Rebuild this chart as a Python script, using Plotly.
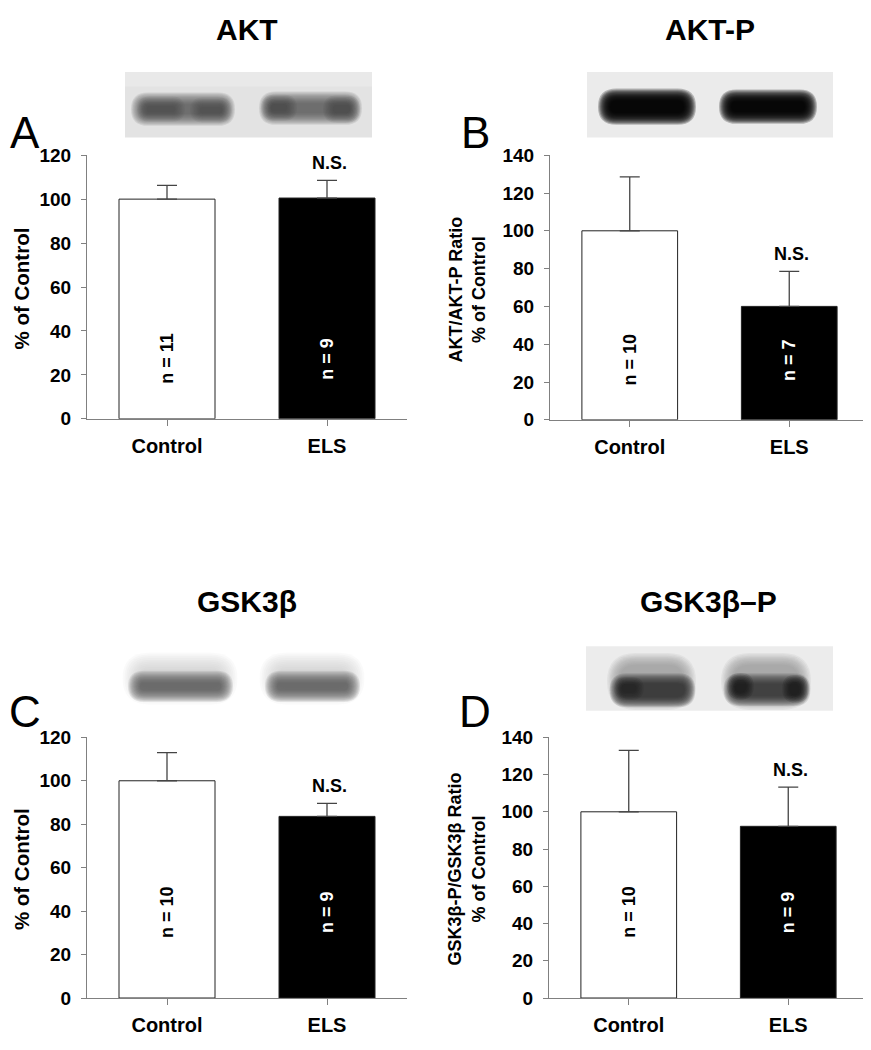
import plotly.graph_objects as go

# the html body adds an 8px margin; figure coordinates below are given in page pixels
OFF = 8
W, H = 863, 1050

# ---------------- data ----------------
categories = ["Control", "ELS"]

akt_mean = [100, 100.5]
akt_err = [6.3, 8.0]
akt_n = [11, 9]

aktp_mean = [100, 60]
aktp_err = [28.5, 18.5]
aktp_n = [10, 7]

gsk_mean = [100, 83.6]
gsk_err = [13.0, 6.0]
gsk_n = [10, 9]

gskp_mean = [100, 92.2]
gskp_err = [33.0, 21.0]
gskp_n = [10, 9]

titles = ["AKT", "AKT-P", "GSK3β", "GSK3β–P"]
letters = ["A", "B", "C", "D"]
ytitles = ["% of Control", "AKT/AKT-P Ratio<br>% of Control",
           "% of Control", "GSK3β-P/GSK3β Ratio<br>% of Control"]
yranges = [120, 140, 120, 140]

FONT = "Arial, Liberation Sans, sans-serif"


def px(x):
    return (x - OFF) / W


def py(y):
    return 1 - (y - OFF) / H


# panel geometry in page pixels: (x0, x1, ytop, ybottom)
panels = [
    (87, 407, 148, 417),
    (550, 869, 148, 418),
    (87, 407, 742, 1008),
    (549, 868, 742, 1008),
]
means = [akt_mean, aktp_mean, gsk_mean, gskp_mean]
errs = [akt_err, aktp_err, gsk_err, gskp_err]
ns = [akt_n, aktp_n, gsk_n, gskp_n]

fig = go.Figure()
annotations = []
shapes = []

for i in range(4):
    x0, x1, yt, yb = panels[i]
    sfx = "" if i == 0 else str(i + 1)
    xa, ya = "x" + sfx, "y" + sfx
    fig.add_trace(go.Bar(
        x=categories, y=means[i],
        xaxis=xa, yaxis=ya,
        width=0.6,
        marker=dict(color=["white", "black"], line=dict(color="#222222", width=1)),
        error_y=dict(type="data", array=errs[i], arrayminus=[0, 0], symmetric=False,
                     color="#444444", thickness=1.3, width=10),
        showlegend=False,
    ))
    line_style = dict(showline=True, linecolor="#808080", linewidth=1.2,
                      ticks="outside", tickcolor="#808080", tickwidth=1.2,
                      showgrid=False, zeroline=False)
    fig.layout["xaxis" + sfx] = dict(
        domain=[px(x0), px(x1)], anchor=ya, range=[-0.5, 1.5], ticklen=6,
        ticklabelstandoff=3,
        tickfont=dict(family=FONT, size=20, color="black", weight="bold"), **line_style)
    fig.layout["yaxis" + sfx] = dict(
        domain=[py(yb), py(yt)], anchor=xa, range=[0, yranges[i]], dtick=20, ticklen=5,
        ticklabelstandoff=6,
        tickfont=dict(family=FONT, size=19, color="black", weight="bold"), **line_style)

    # N.S. label above ELS error bar
    annotations.append(dict(x="ELS", y=means[i][1] + errs[i][1], xref=xa, yref=ya,
                            text="<b>N.S.</b>", showarrow=False, yanchor="bottom", yshift=5,
                            xshift=2, font=dict(family=FONT, size=18, color="black")))
    # n = labels inside bars
    shift = 60 if i < 2 else 86
    for j, cat in enumerate(categories):
        annotations.append(dict(x=cat, y=0, xref=xa, yref=ya, text="<b>n = %d</b>" % ns[i][j],
                                showarrow=False, textangle=-90, yanchor="middle", yshift=shift,
                                font=dict(family=FONT, size=18,
                                          color="black" if j == 0 else "white")))
    # panel title
    ty = 19.5 if i < 2 else 603
    annotations.append(dict(x=px((x0 + x1) / 2), y=py(ty), xref="paper", yref="paper",
                            text="<b>%s</b>" % titles[i], showarrow=False,
                            xanchor="center", yanchor="middle",
                            font=dict(family=FONT, size=30, color="black")))
    # panel letter
    lx = 25 if i % 2 == 0 else 475
    lby = 142 if i < 2 else 733
    annotations.append(dict(x=px(lx), y=py(lby + 10), xref="paper", yref="paper",
                            text=letters[i], showarrow=False, xanchor="center", yanchor="bottom",
                            font=dict(family=FONT, size=44, color="black")))
    # y-axis title
    two = "<br>" in ytitles[i]
    tx = 467 if (i % 2 == 1) else 21.5
    annotations.append(dict(x=px(tx), y=py((yt + yb) / 2 + 2), xref="paper", yref="paper",
                            text="<b>%s</b>" % ytitles[i], showarrow=False, textangle=-90,
                            xanchor="center", yanchor="middle",
                            font=dict(family=FONT, size=18 if two else 20.5, color="black")))


# ---------------- western-blot pictures (decoration drawn with shapes) ----------------
def rrect_path(x0, y0, x1, y1, r):
    r = max(0.5, min(r, (x1 - x0) / 2, (y1 - y0) / 2))
    pts = [
        ("M", px(x0 + r), py(y0)),
        ("L", px(x1 - r), py(y0)),
        ("Q", px(x1), py(y0), px(x1), py(y0 + r)),
        ("L", px(x1), py(y1 - r)),
        ("Q", px(x1), py(y1), px(x1 - r), py(y1)),
        ("L", px(x0 + r), py(y1)),
        ("Q", px(x0), py(y1), px(x0), py(y1 - r)),
        ("L", px(x0), py(y0 + r)),
        ("Q", px(x0), py(y0), px(x0 + r), py(y0)),
    ]
    s = ""
    for p in pts:
        s += p[0] + " " + ",".join("%.5f" % v for v in p[1:]) + " "
    return s + "Z"


def soft_blob(x0, x1, y0, y1, color, layers=12, spread=9, op=0.13):
    for k in range(layers):
        pad = spread * (0.6 - 1.2 * k / (layers - 1))
        a0, a1 = x0 - pad, x1 + pad
        b0, b1 = y0 - pad, y1 + pad
        if a1 - a0 < 2 or b1 - b0 < 2:
            continue
        shapes.append(dict(type="path", xref="paper", yref="paper",
                           path=rrect_path(a0, b0, a1, b1, (b1 - b0) / 2),
                           fillcolor=color, line=dict(width=0), opacity=op, layer="below"))


def bg_rect(x0, x1, y0, y1, color):
    shapes.append(dict(type="rect", xref="paper", yref="paper",
                       x0=px(x0), x1=px(x1), y0=py(y1), y1=py(y0),
                       fillcolor=color, line=dict(width=0), layer="below"))


# Blot A (AKT)
bg_rect(125, 372, 63, 130, "#e3e3e3")
bg_rect(125, 372, 63, 78, "#e9e9e9")
soft_blob(137, 229, 90, 112, "#555555", layers=12, spread=10, op=0.13)
soft_blob(142, 180, 93, 109, "#3c3c3c", layers=8, spread=8, op=0.07)
soft_blob(195, 227, 94, 110, "#3c3c3c", layers=8, spread=8, op=0.07)
soft_blob(265, 356, 89, 111, "#555555", layers=12, spread=10, op=0.13)
soft_blob(266, 292, 91, 108, "#333333", layers=8, spread=8, op=0.09)
soft_blob(328, 355, 92, 110, "#333333", layers=8, spread=8, op=0.09)

# Blot B (AKT-P)
bg_rect(587, 833, 63, 130, "#ebebeb")
soft_blob(604, 690, 86, 111, "#000000", layers=12, spread=10, op=0.24)
soft_blob(725, 811, 87, 110, "#000000", layers=12, spread=10, op=0.24)

# Blot C (GSK3b)
soft_blob(131, 229, 664, 700, "#c4c4c4", layers=10, spread=14, op=0.08)
soft_blob(134, 227, 680, 700, "#555555", layers=12, spread=10, op=0.12)
soft_blob(268, 356, 664, 700, "#c4c4c4", layers=10, spread=14, op=0.08)
soft_blob(271, 354, 680, 700, "#555555", layers=12, spread=10, op=0.12)

# Blot D (GSK3b-P)
bg_rect(586, 833, 649, 715, "#ececec")
soft_blob(613, 690, 662, 708, "#8a8a8a", layers=10, spread=10, op=0.1)
soft_blob(615, 690, 682, 706, "#2a2a2a", layers=12, spread=9, op=0.14)
soft_blob(618, 640, 684, 700, "#111111", layers=6, spread=6, op=0.1)
soft_blob(727, 805, 662, 708, "#8a8a8a", layers=10, spread=10, op=0.1)
soft_blob(729, 805, 682, 705, "#2a2a2a", layers=12, spread=9, op=0.12)
soft_blob(731, 750, 680, 700, "#111111", layers=6, spread=6, op=0.14)
soft_blob(786, 805, 682, 703, "#111111", layers=6, spread=6, op=0.14)

fig.update_layout(
    width=W, height=H,
    margin=dict(l=0, r=0, t=0, b=0),
    paper_bgcolor="white", plot_bgcolor="rgba(0,0,0,0)",
    annotations=annotations, shapes=shapes,
    font=dict(family=FONT, color="black"),
)

fig.write_html("out.html")
